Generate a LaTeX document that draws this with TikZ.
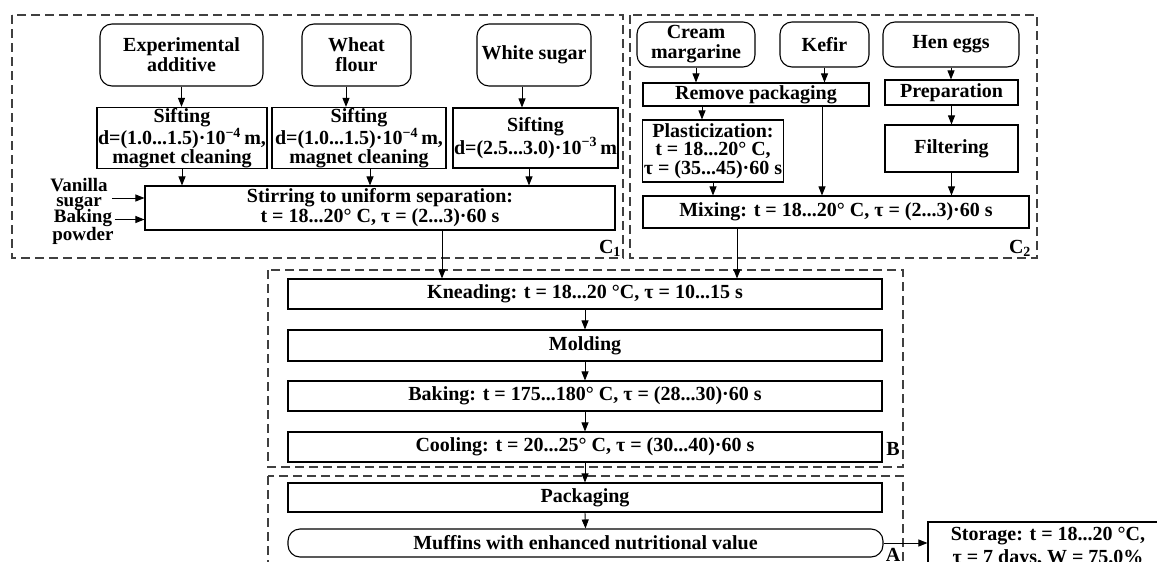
\documentclass[tikz,border=0pt]{standalone}
\usepackage{fontspec}
\setmainfont{Liberation Serif}
\usetikzlibrary{arrows.meta}

\begin{document}
\begin{tikzpicture}[x=1pt, y=-1pt,
  proc/.style={draw, line width=1.1pt, inner sep=1pt, align=center,
    font=\fontsize{20}{20}\selectfont\bfseries},
  term/.style={proc, rounded corners=12pt},
  tight/.style={font=\fontsize{20}{18.5}\selectfont\bfseries},
  frame/.style={draw=black!75, line width=1.1pt, dash pattern=on 9pt off 5pt},
  arr/.style={-{Triangle[length=9pt,width=7pt]}, line width=0.9pt},
  lbl/.style={font=\fontsize{20}{20}\selectfont\bfseries, inner sep=0pt}]

% page is cut at the lower edge, as in the source figure
\clip (0,0) rectangle (1157,562);

% dashed stage frames
\draw[frame] (12,15) rectangle (623,258);
\draw[frame] (630,15) rectangle (1037,258);
\draw[frame] (268,270) rectangle (903,467);
\draw[frame] (268,476) rectangle (903,600);
\node[lbl] (c1) at (610,248) {C\textsubscript{1}};
\node[lbl] (c2) at (1020,248) {C\textsubscript{2}};
\node[lbl] (lb) at (893,449) {B};
\node[lbl] (la) at (893,555) {A};

% C1: dry components
\node[term, minimum width=163pt, minimum height=62pt] (exp) at (181.5,55) {Experimental\\additive};
\node[term, minimum width=109pt, minimum height=62pt] (wheat) at (356.5,55) {Wheat\\flour};
\node[term, minimum width=114pt, minimum height=62pt] (sugar) at (534,55) {White sugar};
\node[proc, tight, minimum width=164pt, minimum height=60pt] (sift1) at (182,138)
  {Sifting\\d=(1.0...1.5)·10\textsuperscript{−4}\,m,\\magnet cleaning};
\node[proc, tight, minimum width=174pt, minimum height=60pt] (sift2) at (359,138)
  {Sifting\\d=(1.0...1.5)·10\textsuperscript{−4}\,m,\\magnet cleaning};
\node[proc, tight, minimum width=159pt, minimum height=60pt] (sift3) at (535.5,138)
  {Sifting\\d=(2.5...3.0)·10\textsuperscript{−3}\,m};
\node[proc, minimum width=470pt, minimum height=44pt] (stir) at (380,208)
  {Stirring to uniform separation:\\t = 18...20° C, τ = (2...3)·60 s};
\node[lbl, align=center, font=\fontsize{19}{15}\selectfont\bfseries] (vanilla) at (79,195) {Vanilla\\sugar};
\node[lbl, align=center, font=\fontsize{19}{15}\selectfont\bfseries] (baking) at (83,227) {Baking\\powder};

% C2: liquid components
\node[term, minimum width=118pt, minimum height=45pt] (cream) at (696,44.5) {Cream\\margarine};
\node[term, minimum width=89pt, minimum height=45pt] (kefir) at (824.5,44.5) {Kefir};
\node[term, minimum width=136pt, minimum height=45pt] (eggs) at (951,44.5) {Hen eggs};
\node[proc, minimum width=226pt, minimum height=23pt] (remove) at (756,94.5) {Remove packaging};
\node[proc, minimum width=133pt, minimum height=25pt] (prep) at (951.5,92.5) {Preparation};
\node[proc, tight, minimum width=140pt, minimum height=62pt] (plast) at (713,151)
  {Plasticization:\\t = 18...20° C,\\τ = (35...45)·60 s};
\node[proc, minimum width=133pt, minimum height=47pt] (filter) at (951.5,148.5) {Filtering};
\node[proc, minimum width=386pt, minimum height=32pt] (mix) at (836,212)
  {Mixing: t = 18...20° C, τ = (2...3)·60 s};

% B and A: main line
\node[proc, minimum width=594pt, minimum height=30pt] (knead) at (585,294) {Kneading: t = 18...20 °C, τ = 10...15 s};
\node[proc, minimum width=594pt, minimum height=31pt] (mold) at (585,345.5) {Molding};
\node[proc, minimum width=594pt, minimum height=30pt] (bake) at (585,396) {Baking: t = 175...180° C, τ = (28...30)·60 s};
\node[proc, minimum width=594pt, minimum height=30pt] (cool) at (585,447) {Cooling: t = 20...25° C, τ = (30...40)·60 s};
\node[proc, minimum width=594pt, minimum height=29pt] (pack) at (585,497.5) {Packaging};
\node[term, minimum width=595pt, minimum height=28pt] (muff) at (585.5,543) {Muffins with enhanced nutritional value};
\node[proc, minimum width=240pt, minimum height=51pt, font=\fontsize{20}{23}\selectfont\bfseries] (store) at (1048,547.5)
  {Storage: t = 18...20 °C,\\τ = 7 days, W = 75.0\%};

% connectors in C1
\draw[arr] (exp.south) -- (exp.south |- sift1.north);
\coordinate (w1) at ([xshift=-10.5pt]wheat.south);
\draw[arr] (w1) -- (w1 |- sift2.north);
\coordinate (s1) at ([xshift=-12pt]sugar.south);
\draw[arr] (s1) -- (s1 |- sift3.north);
\draw[arr] (sift1.south) -- (sift1.south |- stir.north);
\coordinate (w2) at ([xshift=11pt]sift2.south);
\draw[arr] (w2) -- (w2 |- stir.north);
\coordinate (s2) at ([xshift=-6.5pt]sift3.south);
\draw[arr] (s2) -- (s2 |- stir.north);
\coordinate (vs) at ([xshift=4pt,yshift=-3pt]vanilla.east);
\draw[arr] (vs) -- (vs -| stir.west);
\coordinate (bk) at ([xshift=1pt,yshift=7.5pt]baking.east);
\draw[arr] (bk) -- (bk -| stir.west);

% connectors in C2
\draw[arr] (cream.south) -- (cream.south |- remove.north);
\draw[arr] (kefir.south) -- (kefir.south |- remove.north);
\coordinate (r1) at ([xshift=-54pt]remove.south);
\draw[arr] (r1) -- (r1 |- plast.north);
\coordinate (r2) at ([xshift=66pt]remove.south);
\draw[arr] (r2) -- (r2 |- mix.north);
\draw[arr] (plast.south) -- (plast.south |- mix.north);
\draw[arr] (eggs.south) -- (eggs.south |- prep.north);
\draw[arr] (prep.south) -- (prep.south |- filter.north);
\draw[arr] (filter.south) -- (filter.south |- mix.north);

% into kneading
\coordinate (k1) at ([xshift=62pt]stir.south);
\draw[arr] (k1) -- (k1 |- knead.north);
\coordinate (k2) at ([xshift=-99pt]mix.south);
\draw[arr] (k2) -- (k2 |- knead.north);

% main line
\foreach \a/\b in {knead/mold, mold/bake, bake/cool, cool/pack, pack/muff}
  \draw[arr] (\a.south) -- (\b.north);
\draw[arr] (muff.east) -- (store.west |- muff.east);

\end{tikzpicture}
\end{document}
